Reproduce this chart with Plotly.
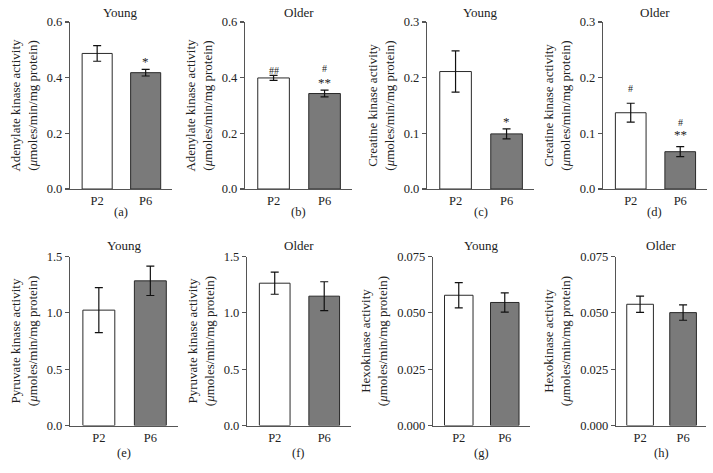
import plotly.graph_objects as go

categories = ["P2", "P6"]

panel_letters = ["(a)", "(b)", "(c)", "(d)", "(e)", "(f)", "(g)", "(h)"]
panel_titles = ["Young", "Older", "Young", "Older", "Young", "Older", "Young", "Older"]
ytitle_line1 = ["Adenylate kinase activity", "Adenylate kinase activity",
                "Creatine kinase activity", "Creatine kinase activity",
                "Pyruvate kinase activity", "Pyruvate kinase activity",
                "Hexokinase activity", "Hexokinase activity"]
ytitle_line2 = "(<i>μ</i>moles/min/mg protein)"

# mean values [P2, P6] per panel
values_a = [0.487, 0.418]
values_b = [0.399, 0.343]
values_c = [0.211, 0.099]
values_d = [0.137, 0.067]
values_e = [1.024, 1.284]
values_f = [1.263, 1.148]
values_g = [0.0578, 0.0546]
values_h = [0.0538, 0.0501]

# error (SEM) values [P2, P6] per panel
errors_a = [0.028, 0.012]
errors_b = [0.009, 0.012]
errors_c = [0.037, 0.009]
errors_d = [0.017, 0.009]
errors_e = [0.200, 0.130]
errors_f = [0.098, 0.128]
errors_g = [0.0056, 0.0043]
errors_h = [0.0036, 0.0034]

# significance marks [P2, P6] per panel
stars_a = ["", "*"]
stars_b = ["", "**"]
stars_c = ["", "*"]
stars_d = ["", "**"]
hashes_a = ["", ""]
hashes_b = ["##", "#"]
hashes_c = ["", ""]
hashes_d = ["#", "#"]

# y-axis ticks per panel
yticks_ab = [0.0, 0.2, 0.4, 0.6]
yticks_cd = [0.0, 0.1, 0.2, 0.3]
yticks_ef = [0.0, 0.5, 1.0, 1.5]
yticks_gh = [0.000, 0.025, 0.050, 0.075]

values = [values_a, values_b, values_c, values_d, values_e, values_f, values_g, values_h]
errors = [errors_a, errors_b, errors_c, errors_d, errors_e, errors_f, errors_g, errors_h]
stars = [stars_a, stars_b, stars_c, stars_d] + [["", ""]] * 4
hashes = [hashes_a, hashes_b, hashes_c, hashes_d] + [["", ""]] * 4
yticks = [yticks_ab, yticks_ab, yticks_cd, yticks_cd, yticks_ef, yticks_ef, yticks_gh, yticks_gh]
tickfmt = [".1f"] * 6 + [".3f"] * 2

# pixel offsets of the marks above the error-bar tops (style)
star_shift = {(0, 1): -2, (1, 1): -2, (2, 1): -2, (3, 1): 3}
hash_shift = {(1, 0): -3, (1, 1): 14, (3, 0): 7, (3, 1): 17}

W, H = 713, 473
# layout in pixels: (axis left px, spacing px)
x_px = [(70, 48.5), (245, 51), (427, 51), (603, 49.5),
        (70, 51.5), (247, 49.5), (433, 46), (616, 43)]
row_px = [(22, 189), (256.5, 425.5)]
XR = [-0.56, 1.54]

FONT = "Liberation Serif"
TXT = "#222222"
AX = "#555555"

fig = go.Figure()
layout = dict(
    template="none",
    width=W, height=H, margin=dict(l=0, r=0, t=0, b=0, pad=0), autosize=False,
    paper_bgcolor="white", plot_bgcolor="white", showlegend=False,
    font=dict(family=FONT, size=12, color=TXT),
)
annotations = []
for i in range(8):
    n = i + 1
    xa = "x" if n == 1 else f"x{n}"
    ya = "y" if n == 1 else f"y{n}"
    left, sp = x_px[i]
    right = left + (XR[1] - XR[0]) * sp
    top, bot = row_px[i // 4]
    xdom = [left / W, right / W]
    ydom = [1 - bot / H, 1 - top / H]
    fig.add_trace(go.Bar(
        x=[0, 1], y=values[i], width=0.62,
        marker=dict(color=["white", "#7a7a7a"], line=dict(color="#2a2a2a", width=1)),
        error_y=dict(type="data", array=errors[i], visible=True,
                     color="#111111", thickness=1.2, width=4),
        xaxis=xa, yaxis=ya, hoverinfo="skip",
    ))
    layout["xaxis" if n == 1 else f"xaxis{n}"] = dict(
        domain=xdom, range=XR, anchor=ya, showgrid=False, zeroline=False,
        automargin=False,
        showline=True, linecolor=AX, linewidth=1.2, ticks="",
        tickmode="array", tickvals=[0, 1], ticktext=categories,
        tickfont=dict(family=FONT, size=12.5, color=TXT), fixedrange=True,
    )
    ymax = yticks[i][-1]
    layout["yaxis" if n == 1 else f"yaxis{n}"] = dict(
        domain=ydom, range=[0, ymax], anchor=xa, showgrid=False, zeroline=False,
        automargin=False,
        showline=True, linecolor=AX, linewidth=1.2, ticks="outside", ticklen=4,
        tickcolor=AX, tickwidth=1.2, tickmode="array", tickvals=yticks[i],
        tickformat=tickfmt[i], tickfont=dict(family=FONT, size=12.5, color=TXT),
        title=dict(text=ytitle_line1[i] + "<br>" + ytitle_line2,
                   font=dict(family=FONT, size=13, color=TXT), standoff=6),
        fixedrange=True,
    )
    cx = (xdom[0] + xdom[1]) / 2
    title_y = 13 if i < 4 else 245
    letter_y = 212 if i < 4 else 453
    annotations.append(dict(text=panel_titles[i], xref="paper", yref="paper",
                            x=cx, y=1 - title_y / H, xanchor="center", yanchor="middle",
                            showarrow=False, font=dict(family=FONT, size=13, color=TXT)))
    annotations.append(dict(text=panel_letters[i], xref="paper", yref="paper",
                            x=cx, y=1 - letter_y / H, xanchor="center", yanchor="middle",
                            showarrow=False, font=dict(family=FONT, size=12.5, color=TXT)))
    for j in range(2):
        ytop = values[i][j] + errors[i][j]
        s = stars[i][j]
        h = hashes[i][j]
        if s:
            annotations.append(dict(text=s, xref=xa, yref=ya, x=j, y=ytop,
                                    xanchor="center", yanchor="bottom",
                                    yshift=star_shift.get((i, j), -2),
                                    showarrow=False,
                                    font=dict(family=FONT, size=13, color=TXT)))
        if h:
            annotations.append(dict(text=h, xref=xa, yref=ya, x=j, y=ytop,
                                    xanchor="center", yanchor="bottom",
                                    yshift=hash_shift.get((i, j), 0), showarrow=False,
                                    font=dict(family=FONT, size=10, color=TXT)))
layout["annotations"] = annotations
fig.update_layout(**layout)
fig.write_html(
    "out.html",
    config={"displayModeBar": False, "staticPlot": True},
    post_script="document.body.style.margin='0';document.body.style.padding='0';"
                "document.documentElement.style.margin='0';",
)
